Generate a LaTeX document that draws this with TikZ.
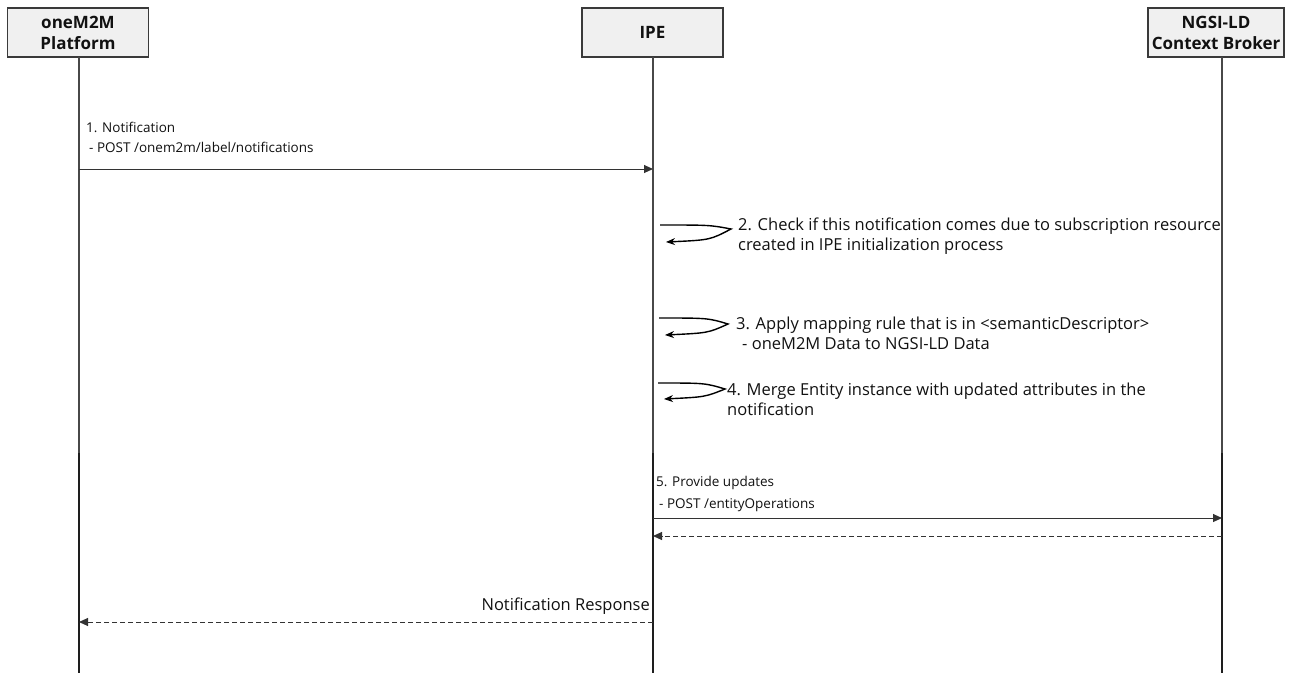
\documentclass[tikz,border=0pt]{standalone}
\usepackage{fontspec}
\setmainfont{Open Sans}
\usetikzlibrary{arrows.meta}
\definecolor{boxfill}{HTML}{F0F0F0}
\definecolor{boxline}{HTML}{3A3A3A}
\definecolor{lifeup}{HTML}{484848}
\definecolor{lifelow}{HTML}{1E1E1E}
\definecolor{msg}{HTML}{333333}
\definecolor{txt}{HTML}{111111}
\begin{document}
\begin{tikzpicture}[x=1pt,y=-1pt,
  actor/.style={draw=boxline, fill=boxfill, line width=1.5pt, inner sep=0pt,
    minimum height=49pt, align=center, text=txt,
    font=\fontsize{17}{21}\selectfont\bfseries},
  lifeupper/.style={draw=lifeup, line width=1.8pt},
  lifelower/.style={draw=lifelow, line width=1.8pt},
  call/.style={draw=msg, line width=1pt, -{Triangle[length=9pt,width=8pt]}},
  reply/.style={draw=msg, line width=1pt, dash pattern=on 5pt off 3pt,
    -{Triangle[length=9pt,width=8pt]}},
  self/.style={draw=black, line width=1.4pt, -{Stealth[length=9pt,width=7pt]}},
  label/.style={inner sep=0pt, align=left, text=txt, anchor=north west,
    font=\fontsize{13.5}{20}\selectfont},
  biglabel/.style={label, font=\fontsize{16.5}{20}\selectfont},
]
\useasboundingbox (0,0) rectangle (1290,673);

% participants
\node[actor, minimum width=141pt] (pl) at (78,32.5) {oneM2M\\Platform};
\node[actor, minimum width=141pt] (ipe) at (652.5,32.5) {IPE};
\node[actor, minimum width=136pt] (br) at (1216,32.5) {NGSI-LD\\Context Broker};

% lifelines
\coordinate (plt) at (79,57);   \coordinate (plm) at (79,453);   \coordinate (plb) at (79,673);
\coordinate (ipet) at (653,57); \coordinate (ipem) at (653,453); \coordinate (ipeb) at (653,673);
\coordinate (brt) at (1222,57); \coordinate (brm) at (1222,453); \coordinate (brb) at (1222,673);
\draw[lifeupper] (plt) -- (plm);
\draw[lifelower] (plm) -- (plb);
\draw[lifeupper] (ipet) -- (ipem);
\draw[lifelower] (ipem) -- (ipeb);
\draw[lifeupper] (brt) -- (brm);
\draw[lifelower] (brm) -- (brb);

% 1. notification
\coordinate (m1a) at (79,169);  \coordinate (m1b) at (653,169);
\draw[call] (m1a) -- (m1b);
\node[label] (t1) at (86,122) {1. Notification\\\hspace*{3pt}- POST /onem2m/label/notifications};

% 2. self check
\coordinate (s2a) at (660,225); \coordinate (s2t) at (731,229); \coordinate (s2b) at (666,242);
\draw[self] (s2a) .. controls (710,225) .. (s2t) .. controls (710,240) .. (s2b);
\node[biglabel] (t2) at (738,218) {2. Check if this notification comes due to subscription resource\\created in IPE initialization process};

% 3. mapping rule
\coordinate (s3a) at (659,318); \coordinate (s3t) at (728,324); \coordinate (s3b) at (665,335);
\draw[self] (s3a) .. controls (708,318) .. (s3t) .. controls (708,333) .. (s3b);
\node[biglabel] (t3) at (736,317) {3. Apply mapping rule that is in <semanticDescriptor>\\\hspace*{6pt}- oneM2M Data to NGSI-LD Data};

% 4. merge
\coordinate (s4a) at (658,383); \coordinate (s4t) at (725,389); \coordinate (s4b) at (664,399);
\draw[self] (s4a) .. controls (705,383) .. (s4t) .. controls (705,397) .. (s4b);
\node[biglabel] (t4) at (727,383) {4. Merge Entity instance with updated attributes in the\\notification};

% 5. provide updates
\coordinate (m5a) at (653,518); \coordinate (m5b) at (1222,518);
\draw[call] (m5a) -- (m5b);
\node[label, font=\fontsize{13.5}{22}\selectfont] (t5) at (656,476) {5. Provide updates\\\hspace*{3pt}- POST /entityOperations};
\coordinate (r5a) at (1222,536); \coordinate (r5b) at (653,536);
\draw[reply] (r5a) -- (r5b);

% notification response
\coordinate (r6a) at (653,622); \coordinate (r6b) at (79,622);
\draw[reply] (r6a) -- (r6b);
\node[biglabel, anchor=north east] (t6) at (650,598) {Notification Response};
\end{tikzpicture}
\end{document}
